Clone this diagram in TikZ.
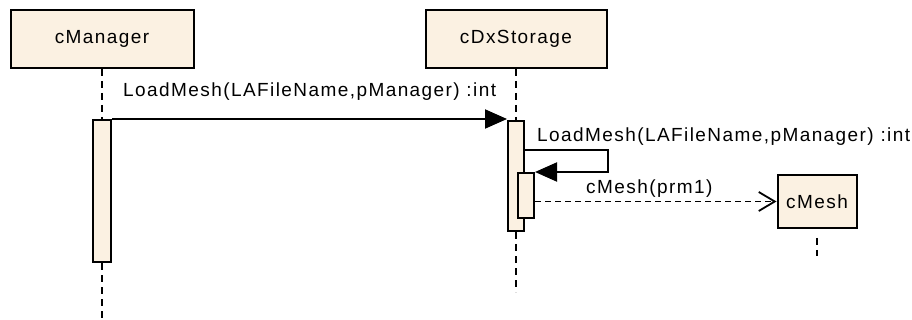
\documentclass[tikz,border=0pt]{standalone}
\usepackage{fontspec}
\setmainfont{Liberation Sans}[LetterSpace=7.5]
\usetikzlibrary{arrows.meta}
\usetikzlibrary{calc}
\definecolor{lifefill}{RGB}{251,241,226}
\tikzset{
objbox/.style={draw, line width=2pt, fill=lifefill, inner sep=0pt, font=\fontsize{19}{22}\selectfont},
actbox/.style={draw, line width=2pt, fill=lifefill, inner sep=0pt},
lifeline/.style={line width=2pt, dash pattern=on 7pt off 5pt},
msg/.style={line width=2pt, -{Triangle[length=22pt,width=19pt]}},
create/.style={line width=1.8pt, dash pattern=on 6pt off 4pt, -{Straight Barb[length=16pt,width=19pt,line width=1.8pt]}},
msglabel/.style={anchor=west, inner sep=0pt, font=\fontsize{19}{22}\selectfont}
}
\begin{document}
\begin{tikzpicture}[x=1pt,y=-1pt]%LoadMesh sequence
\useasboundingbox (0,0) rectangle (912,320);
\node[objbox, minimum width=183pt, minimum height=58pt] (mgr) at (102,39) {cManager};
\node[objbox, minimum width=181pt, minimum height=58pt] (stor) at (516,39) {cDxStorage};
\node[actbox, minimum width=18pt, minimum height=142pt] (mgrAct) at (102,191) {};
\node[actbox, minimum width=16pt, minimum height=110pt] (storAct) at (516,176) {};
\node[actbox, minimum width=16pt, minimum height=45pt] (subAct) at (526,195.5) {};
\node[objbox, minimum width=79pt, minimum height=53pt] (mesh) at (817,201.5) {cMesh};
\coordinate (mgrEnd) at (102,320);
\coordinate (storEnd) at (516,292);
\coordinate (meshEnd) at (817,256);
\draw[lifeline] (mgr.south) -- (mgrAct.north) (mgrAct.south) -- (mgrEnd);
\draw[lifeline] (stor.south) -- (storAct.north) (storAct.south) -- (storEnd);
\draw[lifeline] ([yshift=-9pt]mesh.south) -- (meshEnd);
\draw[msg] (mgrAct.north east) -- (mgrAct.north east -| storAct.west);
\node[msglabel] (callLoad) at (123,92) {LoadMesh(LAFileName,pManager) :int};
\coordinate (selfOut) at (608,150);
\draw[msg] (selfOut -| storAct.east) -- (selfOut) |- (subAct.north east);
\node[msglabel] (selfLoad) at (537,137) {LoadMesh(LAFileName,pManager) :int};
\draw[create] (subAct.east |- mesh.west) -- (mesh.west);
\node[msglabel] (newMesh) at (586,189) {cMesh(prm1)};
\end{tikzpicture}
\end{document}
